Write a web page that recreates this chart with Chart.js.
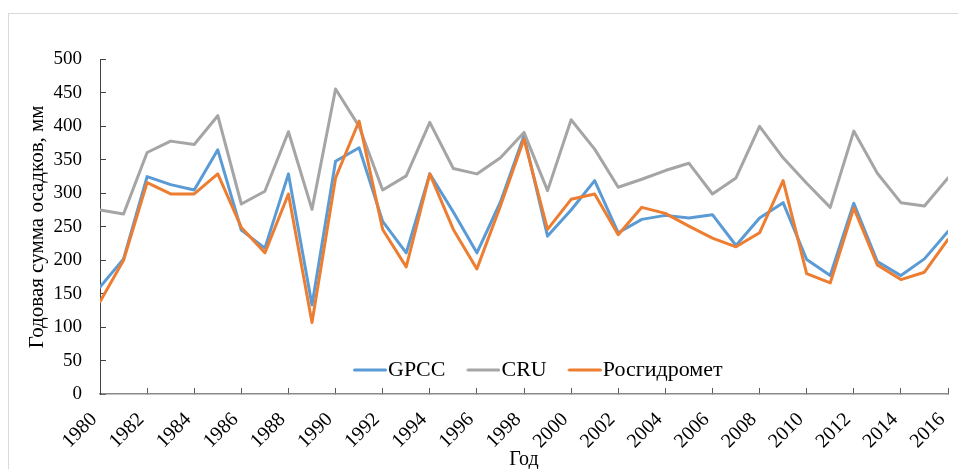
<!DOCTYPE html>
<html><head><meta charset="utf-8">
<script src="https://cdn.jsdelivr.net/npm/chart.js@4"></script>
<style>
html,body{margin:0;padding:0;background:#fff;}
#wrap{position:relative;width:958px;height:469px;overflow:hidden;}
#frame{position:absolute;left:8px;top:13px;width:1000px;height:520px;border:1px solid #d9d9d9;box-sizing:border-box;}
#c{position:absolute;left:0;top:0;}
</style></head><body>
<div id="wrap"><div id="frame"></div><canvas id="c" width="958" height="469"></canvas></div>
<script>
const years = [1980,1981,1982,1983,1984,1985,1986,1987,1988,1989,1990,1991,1992,1993,1994,1995,1996,1997,1998,1999,2000,2001,2002,2003,2004,2005,2006,2007,2008,2009,2010,2011,2012,2013,2014,2015,2016];
const gpcc = [160,202,325,313,305,365,245,218,329,133,348,368,258,211,329,272,211,287,386,236,275,319,241,261,267,263,268,222,263,286,201,177,285,198,177,202,243];
const cru = [275,269,361,378,373,416,284,303,392,276,456,400,305,326,406,337,329,353,391,304,410,366,309,321,334,345,299,323,400,353,315,279,393,330,286,281,323];
const rosgidromet = [138,200,316,299,299,329,249,211,299,107,323,408,246,190,329,246,187,281,381,246,291,299,238,279,270,251,233,220,241,319,180,166,278,193,171,182,231];
const seriesNames = ['GPCC','CRU','Росгидромет'];
const seriesColors = ['#5B9BD5','#A5A5A5','#ED7D31'];
const yTitle = 'Годовая сумма осадков, мм';
const xTitle = 'Год';

const FONT = "'Liberation Serif', 'Times New Roman', serif";

function pts(arr){ return years.map((yr,i)=>({x: yr, y: arr[i]})); }

function lineSwatch(color){
  const c = document.createElement('canvas');
  c.width = 44; c.height = 6;
  const g = c.getContext('2d');
  g.strokeStyle = color; g.lineWidth = 3; g.lineCap = 'round';
  g.beginPath(); g.moveTo(11.5,3); g.lineTo(42.5,3); g.stroke();
  return c;
}

const legendMover = {
  id: 'legendMover',
  beforeLayout(chart){
    const lg = chart.legend;
    if (lg && !lg._wrapped){
      const orig = lg.update.bind(lg);
      lg.update = function(w,h,m){ orig(w,h,m); this.height = 0; };
      lg._wrapped = true;
    }
  },
  afterLayout(chart){
    const lg = chart.legend;
    if (!lg) return;
    lg.left = 332; lg.right = chart.width; lg.width = lg.right - lg.left;
    lg.top = 338; lg.bottom = lg.top + 60;
  }
};

const ds = [gpcc, cru, rosgidromet].map((arr,i)=>({
  label: seriesNames[i],
  data: pts(arr),
  borderColor: seriesColors[i],
  backgroundColor: seriesColors[i],
  borderWidth: 3,
  pointRadius: 0,
  tension: 0,
  borderJoinStyle: 'round',
  borderCapStyle: 'round',
  fill: false,
  order: 2 - i
}));

new Chart(document.getElementById('c'), {
  type: 'line',
  data: { datasets: ds },
  plugins: [legendMover],
  options: {
    responsive: false,
    animation: false,
    devicePixelRatio: 1,
    layout: { padding: { left: 0, right: 10, top: 59.5, bottom: 0 } },
    plugins: {
      tooltip: { enabled: false },
      legend: {
        display: true,
        position: 'bottom',
        align: 'start',
        labels: {
          usePointStyle: true,
          pointStyleWidth: 24,
          padding: 21,
          color: '#000',
          font: { family: FONT, size: 22 },
          generateLabels(chart){
            const items = Chart.defaults.plugins.legend.labels.generateLabels(chart);
            items.sort((a,b)=>a.datasetIndex-b.datasetIndex);
            items.forEach(it=>{ it.pointStyle = lineSwatch(seriesColors[it.datasetIndex]); });
            return items;
          }
        }
      }
    },
    scales: {
      x: {
        type: 'linear',
        position: 'bottom',
        min: 1980, max: 2016,
        afterFit(s){ s.height = 75; s.paddingRight = 0; s.paddingLeft = 0; },
        ticks: {
          stepSize: 2,
          autoSkip: false,
          minRotation: 45, maxRotation: 45,
          padding: 20,
          labelOffset: -6,
          color: '#000',
          font: { family: FONT, size: 20 },
          callback: v => String(v)
        },
        grid: { display: true, drawOnChartArea: false, drawTicks: true, tickLength: -6, color: '#595959', lineWidth: 1 },
        border: { display: true, color: '#898989', width: 1.5 },
        title: { display: true, text: xTitle, color: '#000', font: { family: FONT, size: 20 }, padding: { top: 0, bottom: -3 } }
      },
      y: {
        type: 'linear',
        min: 0, max: 500,
        afterFit(s){ s.width = 100; },
        ticks: {
          stepSize: 50,
          padding: 24,
          color: '#000',
          font: { family: FONT, size: 19 }
        },
        grid: { display: true, drawOnChartArea: false, drawTicks: true, tickLength: -6, color: '#404040', lineWidth: 1 },
        border: { display: true, color: '#404040', width: 1 },
        title: { display: true, text: yTitle, color: '#000', font: { family: FONT, size: 21 }, padding: { top: 25, bottom: 0 } }
      }
    }
  }
});
</script>
</body></html>
